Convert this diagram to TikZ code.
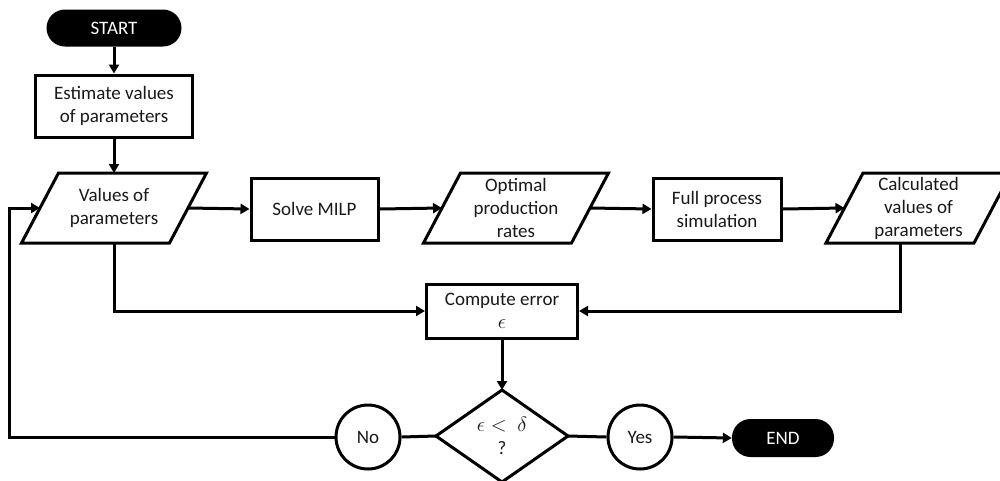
\documentclass[tikz,border=0pt]{standalone}
\usepackage{fontspec}
\setmainfont{Carlito}
\usetikzlibrary{arrows.meta,calc,shapes.geometric}
\newcommand\drawpara[1]{\draw[shapeline] ($(#1.north west)+(18.5,0)$) -- ($(#1.north east)+(18.5,0)$) -- ($(#1.south east)+(-18.5,0)$) -- ($(#1.south west)+(-18.5,0)$) -- cycle;}
\newcommand\bigmath[1]{{\fontsize{22}{23}\selectfont$#1$}}
\begin{document}
\begin{tikzpicture}[x=1pt,y=-1pt,
  every node/.style={font=\fontsize{19}{23}\selectfont, align=center, inner sep=0pt, text=black!90},
  shapeline/.style={line width=3pt, draw=black, line join=miter},
  conn/.style={line width=3pt, draw=black},
  arrowline/.style={conn, -{Triangle[length=9pt,width=10pt]}},
  term/.style={rectangle, rounded corners=18.5pt, fill=black, text=white, minimum height=37pt},
  procbox/.style={rectangle, shapeline, minimum height=62pt},
  circ/.style={circle, shapeline, minimum size=64pt},
  paraslot/.style={rectangle, minimum width=148pt, minimum height=70pt, outer sep=0pt},
  diaslot/.style={rectangle, minimum width=132pt, minimum height=92pt, outer sep=0pt}
]
\useasboundingbox (0,0) rectangle (1000,480);
\fill[white] (0,0) rectangle (1000,480);

% nodes
\node[term, minimum width=135pt] (start) at (114,28) {START};
\node[procbox, minimum width=157pt] (est) at (114,106) {Estimate values\\of parameters};
\node[paraslot] (vals) at (114,208) {Values of\\parameters};
\node[procbox, minimum width=127pt] (milp) at (314.5,209) {Solve MILP};
\node[paraslot] (opt) at (516,208) {Optimal\\production\\rates};
\node[procbox, minimum width=128pt] (full) at (717,209) {Full process\\simulation};
\node[paraslot] (calc) at (918.5,208) {Calculated\\values of\\parameters};
\node[procbox, minimum width=151pt, minimum height=54pt] (ce) at (502,311) {Compute error\\\bigmath{\epsilon}};
\node[diaslot] (dia) at (502,436) {\bigmath{\epsilon < \ \delta}\\?};
\node[circ] (no) at (368,437) {No};
\node[circ] (yes) at (640,437) {Yes};
\node[term, minimum width=102pt, minimum height=38pt] (end) at (783,438) {END};
\coordinate (loop) at (9.5,437);

% shapes drawn from slots
\drawpara{vals}
\drawpara{opt}
\drawpara{calc}
\draw[shapeline] (dia.north) -- (dia.east) -- (dia.south) -- (dia.west) -- cycle;

% connectors
\draw[arrowline] (start.south) -- (est.north);
\draw[arrowline] (est.south) -- (vals.north);
\draw[arrowline] (vals.east) -- (milp.west);
\draw[arrowline] (milp.east) -- (opt.west);
\draw[arrowline] (opt.east) -- (full.west);
\draw[arrowline] (full.east) -- (calc.west);
\draw[arrowline] (vals.south) |- (ce.west);
\draw[arrowline] ([xshift=-18.5pt]calc.south) |- (ce.east);
\draw[arrowline] (ce.south) -- (dia.north);
\draw[conn] (dia.west) -- (no.east);
\draw[arrowline] (no.west) -- (loop) |- (vals.west);
\draw[conn] (dia.east) -- (yes.west);
\draw[arrowline] (yes.east) -- (end.west);
\end{tikzpicture}
\end{document}
